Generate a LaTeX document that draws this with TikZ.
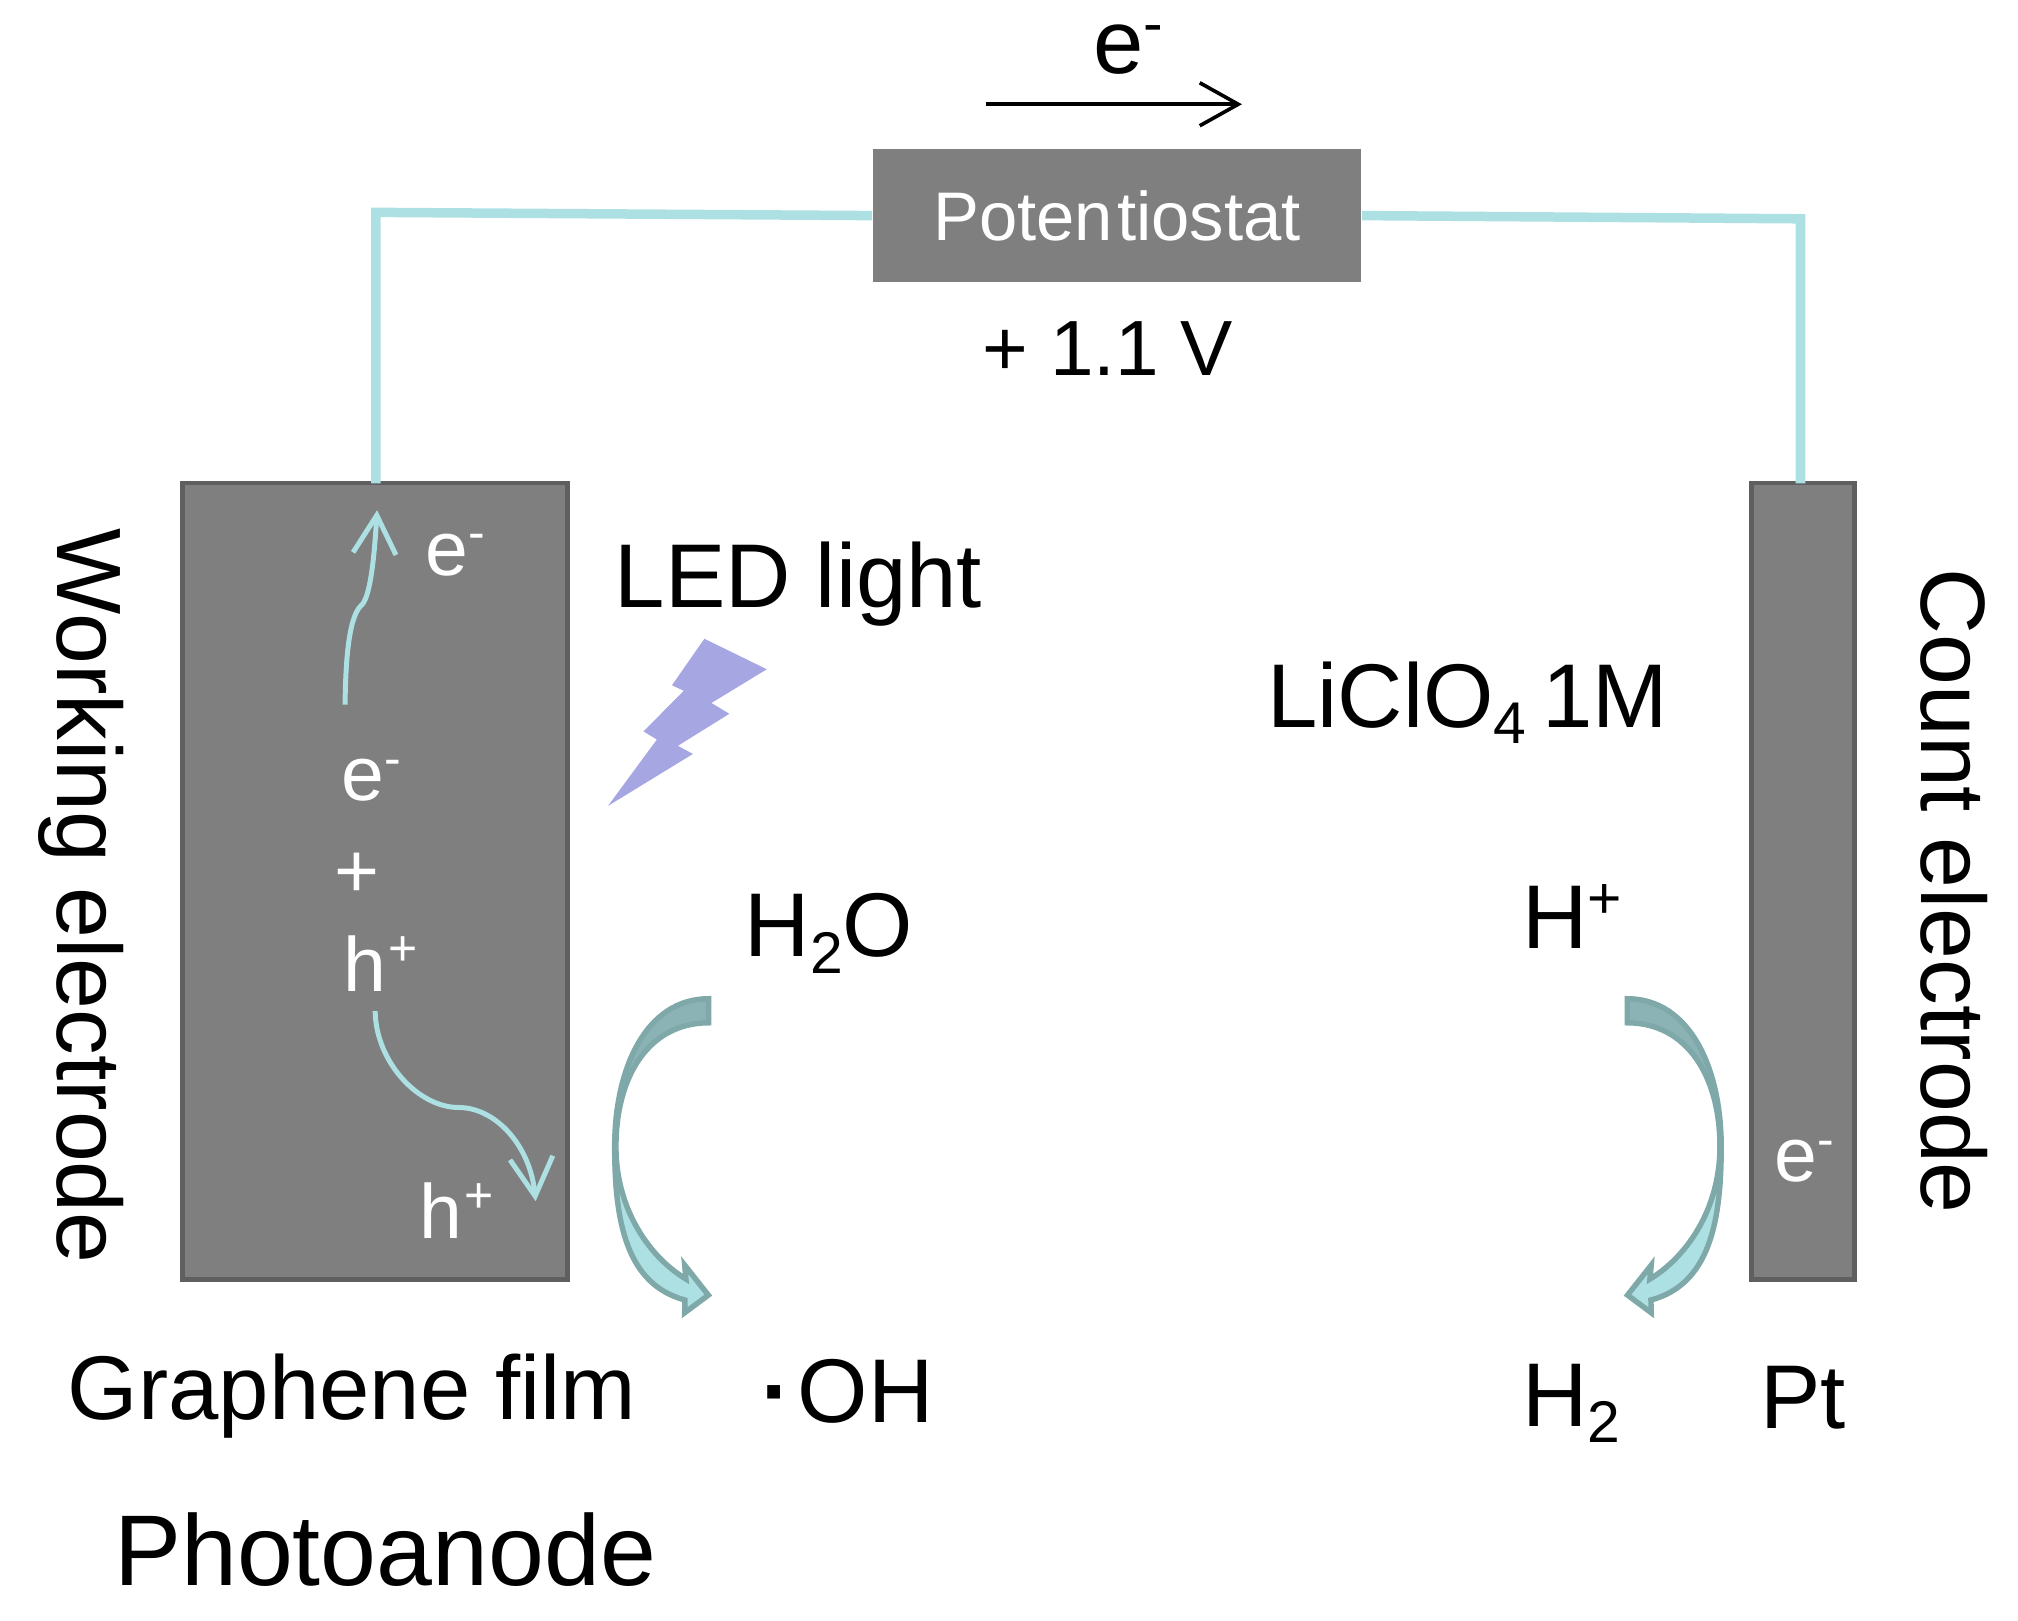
\documentclass[tikz,border=0pt]{standalone}
\usepackage{fontspec}
\setmainfont{Liberation Sans}
\usetikzlibrary{arrows.meta}

\definecolor{wire}{HTML}{ACE0E3}
\definecolor{slab}{HTML}{7F7F7F}
\definecolor{slabedge}{HTML}{5F5F5F}
\definecolor{bolt}{HTML}{A6A6E2}
\definecolor{arrowedge}{HTML}{7FA8A9}
\definecolor{arrowdark}{HTML}{8BB3B5}

\newcommand{\lowtext}[1]{\raisebox{-.185em}{\scalebox{.65}{#1}}}
\newcommand{\hightext}[1]{\raisebox{.33em}{\scalebox{.65}{#1}}}
\newcommand{\reactionarrow}{
  \fill[arrowdark] (550.6,776) .. controls (502,776) and (477.6,830) .. (477.6,891)
    -- (478.6,891) .. controls (478.6,835) and (505,794.7) .. (550.6,794.7) -- cycle;
  \fill[wire] (478,891) .. controls (478,950) and (487,998) .. (532.2,1010.1)
    -- (532,1020) -- (550.4,1006.3) -- (532,983) -- (533,993.8)
    .. controls (505,977) and (478,940) .. (478,891) -- cycle;
  \draw[arrow rim] (550.6,776) .. controls (502,776) and (477.6,830) .. (477.6,891)
    .. controls (477.6,950) and (487,998) .. (532.2,1010.1)
    -- (532,1020) -- (550.4,1006.3) -- (532,983) -- (533,993.8)
    .. controls (505,977) and (478.6,940) .. (478.6,891)
    .. controls (478.6,835) and (505,794.7) .. (550.6,794.7) -- cycle;
}

\tikzset{
  label text/.style={anchor=base west, inner sep=0pt, font=\fontsize{20}{24}\selectfont},
  small text/.style={anchor=base west, inner sep=0pt, text=white, font=\fontsize{17}{20}\selectfont},
  electrode/.style={draw=slabedge, fill=slab, line width=1.05pt, inner sep=0pt},
  lead/.style={draw=wire, line width=2.1pt},
  carrier/.style={draw=wire, line width=1.1pt, -{Straight Barb[length=8.5pt,width=9.5pt]}},
  arrow rim/.style={draw=arrowedge, line width=1.2pt, line join=miter},
}

\begin{document}
\begin{tikzpicture}[x=0.01cm,y=-0.01cm]
  \useasboundingbox (0,0) rectangle (1568,1259);

  \node[electrode, minimum width=2.992cm, minimum height=6.186cm] (anode) at (291.4,684.7) {};
  \node[electrode, minimum width=0.80cm, minimum height=6.186cm] (cathode) at (1401,684.7) {};
  \node[fill=slab, minimum width=3.79cm, minimum height=1.03cm, inner sep=0pt, text=white,
        font=\fontsize{15.2}{18}\selectfont] (potentiostat) at (868,167.5) {\raisebox{-.6pt}{Poten\kern.06em tiostat}};

  \coordinate (lfoot) at (292,375.6);
  \coordinate (lcorner) at (292,165);
  \coordinate (rcorner) at (1399,170);
  \coordinate (rfoot) at (1399,375.6);
  \draw[lead] (lfoot) -- (lcorner) -- (potentiostat.west);
  \draw[lead] (potentiostat.east) -- (rcorner) -- (rfoot);

  % current direction
  \node[label text] (etop) at (849,57) {e\hightext{-}};
  \coordinate (cstart) at (766,81);
  \coordinate (cend) at (965,81);
  \draw[line width=0.8pt, -{Straight Barb[length=8.5pt,width=9.5pt]}] (cstart) -- (cend);
  \node[label text, font=\fontsize{17.3}{20}\selectfont] (volt) at (763,292) {+ 1.1 V};

  % inside the photoanode
  \node[small text] (eup) at (330,447) {e\hightext{-}};
  \node[small text] (emid) at (265,622) {e\hightext{-}};
  \node[small text] (plus) at (259,697) {+};
  \node[small text] (hmid) at (266,770) {h\kern.03em\hightext{+}};
  \node[small text] (hlow) at (325,962) {h\kern.03em\hightext{+}};
  \node[small text] (ecat) at (1378,918) {e\hightext{-}};

  \coordinate (upstart) at (268.1,547.5);
  \coordinate (upend) at (293,396.4);
  \draw[carrier] (upstart) .. controls (268.5,520) and (270,482) .. (280,471)
     .. controls (288,466) and (291,430) .. (upend);
  \coordinate (downstart) at (291.5,785.6);
  \coordinate (downend) at (416.2,933.3);
  \draw[carrier] (downstart) .. controls (292,825) and (325,860.5) .. (356.3,860.5)
     .. controls (385,860.5) and (412,890) .. (downend);

  % lightning
  \fill[bolt] (547.3,496.3) -- (595.8,520) -- (552.8,546.2) -- (566.7,554.6) -- (526.7,579.5)
     -- (538.4,585.8) -- (472.4,626.2) -- (510.4,574.6) -- (500,568.3) -- (531.3,536.7)
     -- (522.1,532.5) -- cycle;

  \reactionarrow
  \begin{scope}[shift={(1815,0)},xscale=-1]
    \reactionarrow
  \end{scope}

  \node[label text] (led) at (477,472) {LED light};
  \node[label text] (salt) at (984,565) {LiClO\lowtext{4}\kern.18em 1M};
  \node[label text] (water) at (578,743) {H\lowtext{2}O};
  \node[label text] (proton) at (1182,737) {H\hightext{+}};
  \node[label text] (radical) at (591,1105) {\textbf{·}\kern.07em OH};
  \node[label text] (hydrogen) at (1182,1108) {H\lowtext{2}};
  \node[label text] (platinum) at (1367,1110) {Pt};
  \node[label text] (graphene) at (52,1103) {Graphene film};
  \node[label text, font=\fontsize{22.2}{26}\selectfont] (photo) at (88,1232) {Photoanode};
  \node[label text, font=\fontsize{20.2}{24}\selectfont, rotate=-90] (working) at (45,410) {Working electrode};
  \node[label text, font=\fontsize{20.2}{24}\selectfont, rotate=-90] (counter) at (1493,441) {Count electrode};
\end{tikzpicture}
\end{document}
